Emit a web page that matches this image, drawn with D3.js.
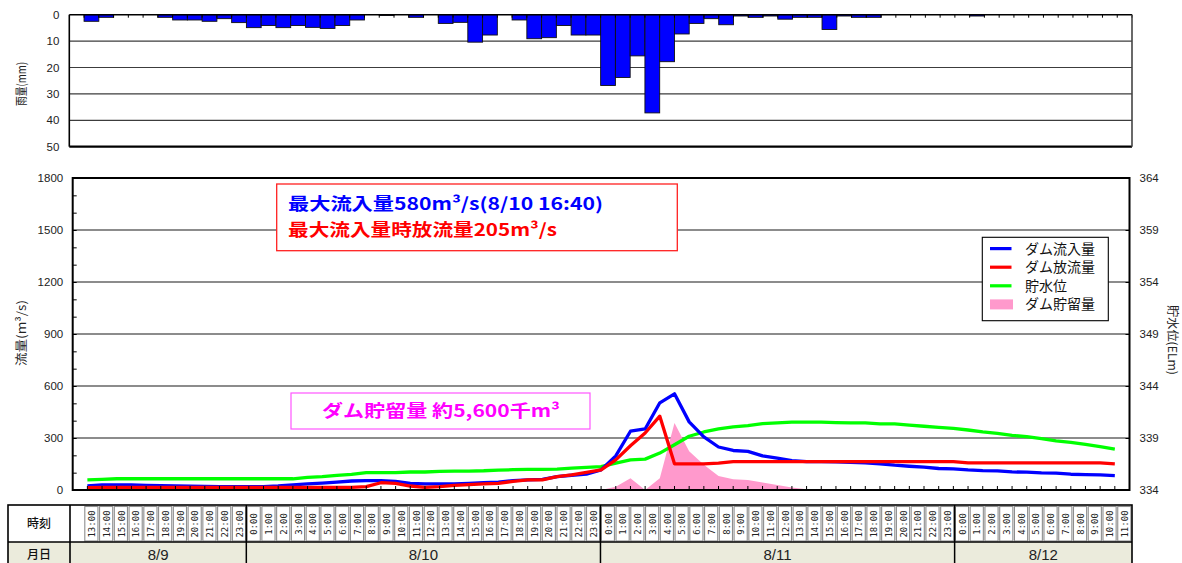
<!DOCTYPE html>
<html>
<head>
<meta charset="utf-8">
<script src="https://cdn.jsdelivr.net/npm/d3@7"></script>
<style>
  body { margin: 0; background: #fff; }
  svg { display: block; font-family: "Liberation Sans", Arial, sans-serif; }
  .jp { font-family: "Noto Sans CJK JP", sans-serif; }
</style>
</head>
<body>
<svg id="chart" width="1182" height="563"></svg>
<script>
// Hourly time axis: 8/9 13:00 – 8/12 11:00
const hours = [
  "13:00","14:00","15:00","16:00","17:00","18:00","19:00","20:00","21:00","22:00","23:00",
  "0:00","1:00","2:00","3:00","4:00","5:00","6:00","7:00","8:00","9:00","10:00","11:00",
  "12:00","13:00","14:00","15:00","16:00","17:00","18:00","19:00","20:00","21:00","22:00","23:00",
  "0:00","1:00","2:00","3:00","4:00","5:00","6:00","7:00","8:00","9:00","10:00","11:00",
  "12:00","13:00","14:00","15:00","16:00","17:00","18:00","19:00","20:00","21:00","22:00","23:00",
  "0:00","1:00","2:00","3:00","4:00","5:00","6:00","7:00","8:00","9:00","10:00","11:00"
];
const days = ["8/9", "8/10", "8/11", "8/12"];
const daySpans = [11, 24, 24, 12];

// Hourly rainfall (mm)
const rainfall = [
  2.5, 1.0, 0, 0, 0, 1.0, 2.0, 2.0, 2.5, 1.5, 3.0,
  4.9, 4.1, 4.9, 4.1, 4.8, 5.2, 4.1, 2.0, 0, 0.3, 0, 1.0,
  0, 3.3, 2.9, 10.4, 7.7, 0, 2.0, 9.1, 8.7, 4.1, 7.7, 7.7,
  26.8, 23.8, 15.6, 37.2, 17.8, 7.3, 3.3, 1.5, 3.8, 0.5, 1.0, 0.5,
  1.7, 1.0, 1.0, 5.6, 0.5, 1.0, 1.0, 0, 0, 0, 0, 0,
  0, 0.5, 0, 0, 0, 0, 0, 0, 0, 0, 0, 0
];

// Dam inflow (m3/s)
const inflow = [
  23, 29, 29, 29, 27, 25, 23, 22, 21, 20,
  20, 19, 19, 23, 29, 35, 40, 46, 52, 54,
  54, 50, 38, 35, 35, 35, 38, 42, 46, 54,
  58, 61, 77, 85, 91, 116, 197, 339, 352, 503,
  555, 393, 306, 248, 228, 223, 197, 184, 170, 164,
  164, 162, 160, 157, 151, 143, 137, 132, 124, 122,
  116, 112, 110, 104, 103, 99, 97, 91, 89, 87, 83
];

// Dam outflow (m3/s)
const outflow = [
  13, 15, 15, 15, 15, 15, 15, 15, 15, 15,
  15, 15, 15, 15, 15, 15, 15, 15, 15, 19,
  42, 38, 23, 15, 19, 27, 31, 35, 38, 50,
  58, 58, 77, 87, 101, 116, 174, 255, 329, 426,
  151, 151, 151, 155, 164, 164, 164, 164, 164, 164,
  164, 164, 164, 164, 164, 164, 164, 164, 164, 164,
  157, 157, 157, 157, 157, 157, 157, 157, 157, 157, 151
];

// Reservoir water level (EL m)
const waterLevel = [
  334.97, 335.02, 335.08, 335.08, 335.08, 335.08, 335.08, 335.08, 335.08, 335.08,
  335.08, 335.08, 335.08, 335.08, 335.08, 335.22, 335.28, 335.40, 335.50, 335.67,
  335.67, 335.67, 335.73, 335.73, 335.80, 335.82, 335.82, 335.85, 335.92, 335.95,
  335.98, 335.98, 336.00, 336.10, 336.17, 336.25, 336.58, 336.90, 336.97, 337.55,
  338.35, 339.17, 339.58, 339.87, 340.07, 340.20, 340.38, 340.45, 340.52, 340.52,
  340.52, 340.48, 340.45, 340.45, 340.35, 340.35, 340.23, 340.13, 340.03, 339.93,
  339.77, 339.58, 339.45, 339.25, 339.13, 338.93, 338.72, 338.58, 338.38, 338.17, 337.93
];

// Dam storage (flood held back, m3/s)
const storage = [
  0, 0, 0, 0, 0, 0, 0, 0, 0, 0,
  0, 0, 0, 0, 0, 0, 0, 0, 0, 0,
  0, 0, 0, 0, 0, 0, 0, 0, 0, 0,
  0, 0, 0, 0, 0, 0, 19, 68, 0, 68,
  387, 223, 145, 81, 62, 58, 43, 29, 15, 4,
  0, 0, 0, 0, 0, 0, 0, 0, 0, 0,
  0, 0, 0, 0, 0, 0, 0, 0, 0, 0, 0
];

const rainTicks = [0, 10, 20, 30, 40, 50];
const flowTicks = [0, 300, 600, 900, 1200, 1500, 1800];
const levelTicks = [334, 339, 344, 349, 354, 359, 364];

const legendItems = [
  { name: "ダム流入量", color: "#0000ff", kind: "line" },
  { name: "ダム放流量", color: "#ff0000", kind: "line" },
  { name: "貯水位", color: "#00ff00", kind: "line" },
  { name: "ダム貯留量", color: "#ff99cc", kind: "area" }
];

const svg = d3.select("#chart");
const n = hours.length;
const plain = d3.format("d");

// ================= Rainfall panel (inverted bars) =================
const R = { l: 69.3, r: 1132, t: 14.7, b: 146.7 };
const xRain = d3.scaleLinear().domain([-1, n]).range([R.l, R.r]);
const yRain = d3.scaleLinear().domain([0, 50]).range([R.t, R.b]);
const gRain = svg.append("g");

gRain.append("g").selectAll("line")
  .data(rainTicks.filter(v => v > 0 && v < 50)).join("line")
  .attr("x1", R.l).attr("x2", R.r)
  .attr("y1", d => yRain(d)).attr("y2", d => yRain(d))
  .attr("stroke", "#3c3c3c").attr("stroke-width", 1.2);

gRain.append("g").selectAll("rect")
  .data(rainfall.map((v, i) => ({ v, i })).filter(d => d.v > 0)).join("rect")
  .attr("x", d => xRain(d.i))
  .attr("width", d => xRain(d.i + 1) - xRain(d.i))
  .attr("y", yRain(0))
  .attr("height", d => yRain(d.v) - yRain(0))
  .attr("fill", "#0000ff").attr("stroke", "#111").attr("stroke-width", 0.9);

// category ticks hanging from the zero line
gRain.append("g").selectAll("line")
  .data(d3.range(0, n + 1)).join("line")
  .attr("x1", d => xRain(d)).attr("x2", d => xRain(d))
  .attr("y1", yRain(0)).attr("y2", yRain(0) + 3)
  .attr("stroke", "#000").attr("stroke-width", 1);

gRain.append("line").attr("x1", R.l).attr("x2", R.r).attr("y1", R.t).attr("y2", R.t)
  .attr("stroke", "#000").attr("stroke-width", 1.5);
gRain.append("line").attr("x1", R.l).attr("x2", R.r).attr("y1", R.b).attr("y2", R.b)
  .attr("stroke", "#000").attr("stroke-width", 2.2);
gRain.append("line").attr("x1", R.l).attr("x2", R.l).attr("y1", R.t).attr("y2", R.b)
  .attr("stroke", "#000").attr("stroke-width", 1.6);
gRain.append("line").attr("x1", R.r).attr("x2", R.r).attr("y1", R.t).attr("y2", R.b)
  .attr("stroke", "#444").attr("stroke-width", 1.6);

const rainAxis = gRain.append("g").attr("transform", `translate(${R.l},0)`)
  .call(d3.axisLeft(yRain).tickValues(rainTicks).tickSize(0).tickPadding(10).tickFormat(plain));
rainAxis.select(".domain").remove();
rainAxis.selectAll("text").attr("font-size", 11.5).attr("fill", "#222")
  .attr("font-family", "Liberation Sans, Arial, sans-serif");

svg.append("text").attr("class", "jp")
  .attr("transform", `translate(26,84) rotate(-90)`)
  .attr("text-anchor", "middle").attr("font-size", 12).attr("fill", "#222")
  .attr("textLength", 44).attr("lengthAdjust", "spacingAndGlyphs")
  .text("雨量(mm)");

// ================= Flow / level panel =================
const M = { l: 72.7, r: 1129.5, t: 178, b: 490 };
const x = d3.scaleLinear().domain([-1, n]).range([M.l, M.r]);
const yFlow = d3.scaleLinear().domain([0, 1800]).range([M.b, M.t]);
const yLevel = d3.scaleLinear().domain([334, 364]).range([M.b, M.t]);
const gMain = svg.append("g");

gMain.append("g").selectAll("line")
  .data(flowTicks.filter(v => v > 0 && v < 1800)).join("line")
  .attr("x1", M.l).attr("x2", M.r)
  .attr("y1", d => yFlow(d)).attr("y2", d => yFlow(d))
  .attr("stroke", "#1a1a1a").attr("stroke-width", 1.1);

// storage area
gMain.append("path")
  .datum(storage)
  .attr("fill", "#ff99cc")
  .attr("d", d3.area().x((d, i) => x(i)).y0(yFlow(0)).y1(d => yFlow(d)));

const lineFlow = d3.line().x((d, i) => x(i)).y(d => yFlow(d));
const lineLevel = d3.line().x((d, i) => x(i)).y(d => yLevel(d));

gMain.append("path").datum(waterLevel).attr("d", lineLevel)
  .attr("fill", "none").attr("stroke", "#00ff00").attr("stroke-width", 3.3)
  .attr("stroke-linejoin", "round");
gMain.append("path").datum(inflow).attr("d", lineFlow)
  .attr("fill", "none").attr("stroke", "#0000ff").attr("stroke-width", 3.3)
  .attr("stroke-linejoin", "round");
gMain.append("path").datum(outflow).attr("d", lineFlow)
  .attr("fill", "none").attr("stroke", "#ff0000").attr("stroke-width", 3.3)
  .attr("stroke-linejoin", "round");

// frame
gMain.append("rect").attr("x", M.l).attr("y", M.t)
  .attr("width", M.r - M.l).attr("height", M.b - M.t)
  .attr("fill", "none").attr("stroke", "#000").attr("stroke-width", 2);

// x ticks (inside, upward)
gMain.append("g").selectAll("line")
  .data(d3.range(0, n)).join("line")
  .attr("x1", d => x(d)).attr("x2", d => x(d))
  .attr("y1", M.b).attr("y2", M.b - 4)
  .attr("stroke", "#000").attr("stroke-width", 1);

// left minor ticks
gMain.append("g").attr("transform", `translate(${M.l},0)`)
  .call(d3.axisRight(yFlow).tickValues(d3.range(0, 1801, 100)).tickSize(4).tickFormat(""))
  .call(g => g.select(".domain").remove());

const leftAxis = gMain.append("g").attr("transform", `translate(${M.l},0)`)
  .call(d3.axisLeft(yFlow).tickValues(flowTicks).tickSize(0).tickPadding(9.5).tickFormat(plain));
leftAxis.select(".domain").remove();
leftAxis.selectAll("text").attr("font-size", 11.5).attr("fill", "#222")
  .attr("font-family", "Liberation Sans, Arial, sans-serif");

gMain.append("g").attr("transform", `translate(${M.r},0)`)
  .call(d3.axisLeft(yLevel).tickValues(levelTicks).tickSize(4).tickFormat(""))
  .call(g => g.select(".domain").remove());

const rightAxis = gMain.append("g").attr("transform", `translate(${M.r},0)`)
  .call(d3.axisRight(yLevel).tickValues(levelTicks).tickSize(0).tickPadding(10).tickFormat(plain));
rightAxis.select(".domain").remove();
rightAxis.selectAll("text").attr("font-size", 11.5).attr("fill", "#222")
  .attr("font-family", "Liberation Sans, Arial, sans-serif");

svg.append("text").attr("class", "jp")
  .attr("transform", `translate(26,333) rotate(-90)`)
  .attr("text-anchor", "middle").attr("font-size", 12).attr("fill", "#222")
  .attr("textLength", 66).attr("lengthAdjust", "spacingAndGlyphs")
  .text("流量(m³/s)");
svg.append("text").attr("class", "jp")
  .attr("transform", `translate(1168,340) rotate(90)`)
  .attr("text-anchor", "middle").attr("font-size", 12).attr("fill", "#222")
  .attr("textLength", 70).attr("lengthAdjust", "spacingAndGlyphs")
  .text("貯水位(ELm)");

// ---- peak annotation ----
const note = svg.append("g");
note.append("rect").attr("x", 276.7).attr("y", 184).attr("width", 400.6).attr("height", 66.7)
  .attr("fill", "#fff").attr("stroke", "#ff2020").attr("stroke-width", 1.3);
note.append("text").attr("class", "jp").attr("x", 288).attr("y", 209.5)
  .attr("font-size", 17).attr("font-weight", "bold").attr("fill", "#0000ff")
  .attr("textLength", 315).attr("lengthAdjust", "spacingAndGlyphs")
  .text("最大流入量580m³/s(8/10 16:40)");
note.append("text").attr("class", "jp").attr("x", 288).attr("y", 235.5)
  .attr("font-size", 17).attr("font-weight", "bold").attr("fill", "#ff0000")
  .attr("textLength", 269).attr("lengthAdjust", "spacingAndGlyphs")
  .text("最大流入量時放流量205m³/s");

// ---- storage annotation ----
const note2 = svg.append("g");
note2.append("rect").attr("x", 291).attr("y", 393).attr("width", 299).attr("height", 36)
  .attr("fill", "#fff").attr("stroke", "#ff55ff").attr("stroke-width", 1.2);
note2.append("text").attr("class", "jp").attr("x", 322).attr("y", 417)
  .attr("font-size", 17).attr("font-weight", "bold").attr("fill", "#ff00ff")
  .attr("textLength", 238).attr("lengthAdjust", "spacingAndGlyphs")
  .text("ダム貯留量 約5,600千m³");

// ---- legend ----
const lg = svg.append("g");
lg.append("rect").attr("x", 982.3).attr("y", 237.3).attr("width", 126).attr("height", 83.4)
  .attr("fill", "#fff").attr("stroke", "#000").attr("stroke-width", 1.1);
const items = lg.selectAll("g.item").data(legendItems).join("g")
  .attr("transform", (d, i) => `translate(990,${248.6 + i * 18.6})`);
items.filter(d => d.kind === "line").append("line")
  .attr("x1", 0).attr("x2", 21.5).attr("y1", 0).attr("y2", 0)
  .attr("stroke", d => d.color).attr("stroke-width", 3.2);
items.filter(d => d.kind === "area").append("rect")
  .attr("x", 0).attr("y", -5).attr("width", 23).attr("height", 10)
  .attr("fill", d => d.color);
items.append("text").attr("class", "jp").attr("x", 35).attr("y", 5)
  .attr("font-size", 14).attr("fill", "#111").text(d => d.name);

// ================= Time table =================
const T = { l: 8, r: 1132, t: 505, mid: 542, b: 572, lab: 70 };
const xTab = d3.scaleBand().domain(d3.range(n)).range([84, 1131.7]);
const gTab = svg.append("g");

gTab.append("rect").attr("x", T.l).attr("y", T.mid).attr("width", T.r - T.l).attr("height", T.b - T.mid)
  .attr("fill", "#ebebdc");

gTab.append("g").selectAll("rect")
  .data(d3.range(n)).join("rect")
  .attr("x", d => xTab(d) + 0.8).attr("y", 506.5)
  .attr("width", xTab.bandwidth() - 1.6).attr("height", 34.5)
  .attr("fill", "#fff").attr("stroke", "#8e8e8e").attr("stroke-width", 1.1);

gTab.append("g").selectAll("text")
  .data(hours.map((h, i) => ({ h, i }))).join("text")
  .attr("transform", d => `translate(${xTab(d.i) + xTab.bandwidth() / 2 + 0.5},524) rotate(-90)`)
  .attr("text-anchor", "middle").attr("dy", "0.35em")
  .attr("font-size", 9).attr("fill", "#222")
  .attr("font-family", "DejaVu Sans Mono, monospace")
  .text(d => d.h);

// day boundaries and labels
const dayStart = daySpans.map((s, i) => d3.sum(daySpans.slice(0, i)));
gTab.append("g").selectAll("line")
  .data(dayStart.slice(1)).join("line")
  .attr("x1", d => xTab(d)).attr("x2", d => xTab(d))
  .attr("y1", T.t).attr("y2", T.b)
  .attr("stroke", "#000").attr("stroke-width", 1.5);

gTab.append("g").selectAll("text")
  .data(days.map((d, i) => ({ d, i }))).join("text")
  .attr("x", e => {
    const a = e.i === 0 ? T.lab : xTab(dayStart[e.i]);
    const end = dayStart[e.i] + daySpans[e.i];
    const b = end >= n ? T.r : xTab(end);
    return (a + b) / 2;
  })
  .attr("y", 555).attr("dy", "0.35em").attr("text-anchor", "middle")
  .attr("font-size", 15).attr("fill", "#222")
  .text(e => e.d);

gTab.append("rect").attr("x", T.l).attr("y", T.t).attr("width", T.r - T.l).attr("height", T.b - T.t)
  .attr("fill", "none").attr("stroke", "#000").attr("stroke-width", 1.6);
gTab.append("line").attr("x1", T.l).attr("x2", T.r).attr("y1", T.mid).attr("y2", T.mid)
  .attr("stroke", "#000").attr("stroke-width", 1.5);
gTab.append("line").attr("x1", T.lab).attr("x2", T.lab).attr("y1", T.t).attr("y2", T.b)
  .attr("stroke", "#000").attr("stroke-width", 1.6);

gTab.append("text").attr("class", "jp").attr("x", (T.l + T.lab) / 2).attr("y", 524)
  .attr("dy", "0.35em").attr("text-anchor", "middle").attr("font-size", 12).attr("font-weight", 500)
  .attr("fill", "#111").text("時刻");
gTab.append("text").attr("class", "jp").attr("x", (T.l + T.lab) / 2).attr("y", 555)
  .attr("dy", "0.35em").attr("text-anchor", "middle").attr("font-size", 12).attr("font-weight", 500)
  .attr("fill", "#111").text("月日");
</script>
</body>
</html>
